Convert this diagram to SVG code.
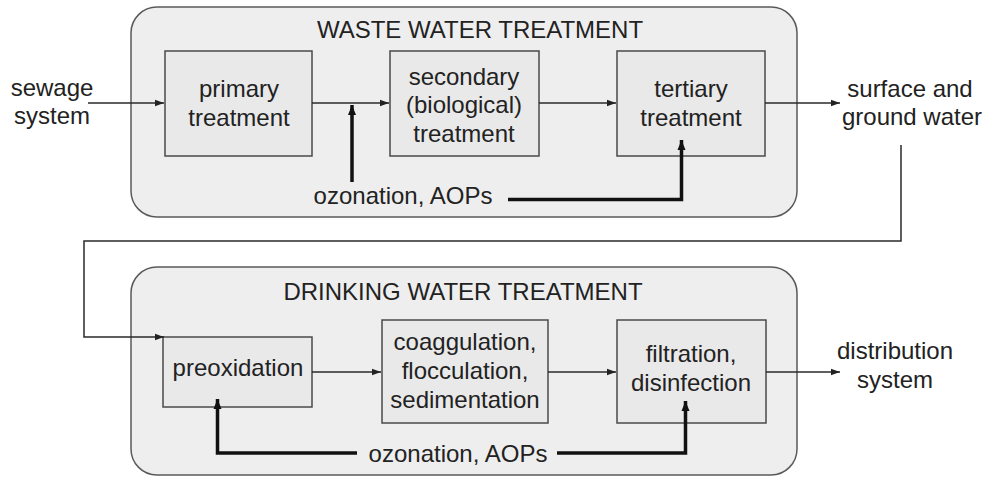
<svg xmlns="http://www.w3.org/2000/svg" width="985" height="477" viewBox="0 0 985 477">
<style>
text{font-family:"Liberation Sans",Arial,sans-serif;font-size:24px;fill:#222;text-anchor:middle}
.panel{fill:#eeeeee;stroke:#5a5a5a;stroke-width:1.5}
.box{fill:#e9e9e9;stroke:#4a4a4a;stroke-width:1.5}
.thin{fill:none;stroke:#2a2a2a;stroke-width:1.5}
.thick{fill:none;stroke:#111;stroke-width:3.5}
</style>
<defs>
<marker id="a" markerUnits="userSpaceOnUse" markerWidth="10" markerHeight="8" refX="9" refY="4" orient="auto"><path d="M0,0.8 L9,4 L0,7.2 z" fill="#222"/></marker>
<marker id="b" markerUnits="userSpaceOnUse" markerWidth="12" markerHeight="10" refX="10" refY="5" orient="auto"><path d="M0,1 L10,5 L0,9 z" fill="#111"/></marker>
</defs>
<rect width="985" height="477" fill="#ffffff"/>
<g id="waste-panel"><rect class="panel" x="131" y="7" width="666" height="210" rx="26"/><text x="480" y="38">WASTE WATER TREATMENT</text></g>
<g id="drinking-panel"><rect class="panel" x="131" y="267" width="666" height="208" rx="26"/><text x="463" y="300">DRINKING WATER TREATMENT</text></g>
<g id="sewage"><text x="52" y="96">sewage</text><text x="52" y="124">system</text></g>
<g id="primary"><rect class="box" x="165" y="51" width="147" height="105"/><text x="239" y="97">primary</text><text x="239" y="126">treatment</text></g>
<g id="secondary"><rect class="box" x="390" y="51" width="149" height="105"/><text x="464" y="85">secondary</text><text x="464" y="113">(biological)</text><text x="464" y="142">treatment</text></g>
<g id="tertiary"><rect class="box" x="617" y="51" width="148" height="105"/><text x="691" y="97">tertiary</text><text x="691" y="126">treatment</text></g>
<g id="surface"><text x="910" y="97">surface and</text><text x="912" y="125">ground water</text></g>
<g id="ozonation-top"><text x="403" y="204">ozonation, AOPs</text></g>
<g id="preoxidation"><rect class="box" x="163" y="337" width="149" height="70"/><text x="238" y="376">preoxidation</text></g>
<g id="coagulation"><rect class="box" x="382" y="320" width="166" height="103"/><text x="465" y="350">coaggulation,</text><text x="465" y="379">flocculation,</text><text x="465" y="408">sedimentation</text></g>
<g id="filtration"><rect class="box" x="617" y="320" width="149" height="103"/><text x="691" y="362">filtration,</text><text x="691" y="391">disinfection</text></g>
<g id="distribution"><text x="895" y="359">distribution</text><text x="895" y="388">system</text></g>
<g id="ozonation-bottom"><text x="458" y="462">ozonation, AOPs</text></g>
<g id="connectors">
<path class="thin" d="M88,103 H164" marker-end="url(#a)"/>
<path class="thin" d="M312,103 H389" marker-end="url(#a)"/>
<path class="thin" d="M539,103 H616" marker-end="url(#a)"/>
<path class="thin" d="M765,103 H840" marker-end="url(#a)"/>
<path class="thick" d="M352,182 V105" marker-end="url(#b)"/>
<path class="thick" d="M508,199.5 H681.5 V140" marker-end="url(#b)"/>
<path class="thin" d="M901,145 V241 H84 V337 H164" marker-end="url(#a)"/>
<path class="thin" d="M312,372 H381" marker-end="url(#a)"/>
<path class="thin" d="M548,372 H616" marker-end="url(#a)"/>
<path class="thin" d="M766,372 H840" marker-end="url(#a)"/>
<path class="thick" d="M357,453 H217.5 V399" marker-end="url(#b)"/>
<path class="thick" d="M557,453 H685.5 V401" marker-end="url(#b)"/>
</g>
</svg>
